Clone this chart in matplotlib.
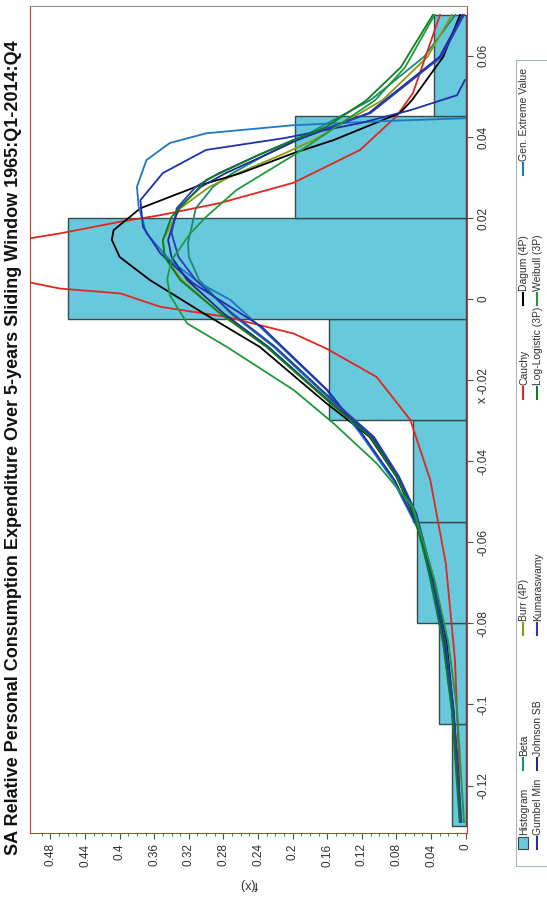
import numpy as np
import matplotlib
matplotlib.use('Agg')
import matplotlib.pyplot as plt
from matplotlib.lines import Line2D
from matplotlib.patches import Rectangle

plt.rcParams['font.family'] = ['Liberation Sans Narrow', 'Liberation Sans', 'DejaVu Sans']

TITLE = 'SA Relative Personal Consumption Expenditure Over 5-years Sliding Window 1965:Q1-2014:Q4'

# histogram of relative frequencies
bin_lefts = [-0.1299, -0.1049, -0.0799, -0.0549, -0.0299, -0.0049, 0.0201, 0.0451]
bin_width = 0.025
bin_probs = [0.0162, 0.0309, 0.0560, 0.0606, 0.1577, 0.4594, 0.1970, 0.0363]

# fitted densities (x, f(x))
dagum_x = [-0.129, -0.1178, -0.1014, -0.0849, -0.0725, -0.0636, -0.0529, -0.0438, -0.034, -0.0257,
           -0.0118, -0.0035, 0.0047, 0.0104, 0.0146, 0.017, 0.0224, 0.0281, 0.031, 0.036, 0.0392,
           0.0459, 0.0491, 0.0598, 0.0701]
dagum_f = [0.0066, 0.0086, 0.0143, 0.022, 0.0335, 0.045, 0.061, 0.080, 0.111, 0.161,
           0.238, 0.303, 0.365, 0.400, 0.409, 0.407, 0.376, 0.307, 0.261, 0.199, 0.153,
           0.076, 0.062, 0.0259, 0.0066]

cauchy_x = [-0.129, -0.1095, -0.089, -0.0652, -0.0446, -0.0298, -0.0192, -0.0122, -0.0085, -0.0044,
            -0.0019, 0.0014, 0.0026, 0.0041, 0.0098, 0.015, 0.0162, 0.0191, 0.0207, 0.0237, 0.0287,
            0.0368, 0.0451, 0.0508, 0.0701]
cauchy_f = [0.0066, 0.0086, 0.0124, 0.023, 0.041, 0.064, 0.103, 0.161, 0.199, 0.276,
            0.353, 0.399, 0.469, 0.5036, 0.645, 0.5036, 0.469, 0.399, 0.353, 0.284, 0.199,
            0.122, 0.080, 0.061, 0.0297]

gev_x = [-0.129, -0.1219, -0.1014, -0.0849, -0.0693, -0.0577, -0.0447, -0.0331, -0.0224, -0.0068,
         -0.0002, 0.0039, 0.0096, 0.0162, 0.0228, 0.0277, 0.0343, 0.0385, 0.0409, 0.0429, 0.044,
         0.0446]
gev_f = [0.0066, 0.0086, 0.016, 0.026, 0.041, 0.053, 0.084, 0.122, 0.161, 0.238,
         0.272, 0.307, 0.342, 0.369, 0.378, 0.380, 0.369, 0.342, 0.300, 0.199, 0.084,
         0.001]

gumbel_x = [-0.129, -0.1219, -0.1014, -0.0849, -0.0693, -0.0577, -0.0447, -0.0331, -0.0224, -0.0068,
            0.0039, 0.0113, 0.0178, 0.0244, 0.0311, 0.0368, 0.0397, 0.0434, 0.0466, 0.0503, 0.054]
gumbel_f = [0.0062, 0.0082, 0.015, 0.025, 0.040, 0.052, 0.082, 0.120, 0.160, 0.236,
            0.315, 0.353, 0.373, 0.376, 0.350, 0.300, 0.210, 0.122, 0.064, 0.010, 0.001]

johnson_x = [-0.129, -0.1014, -0.0849, -0.0693, -0.0529, -0.0438, -0.034, -0.0257, -0.0118, -0.0035,
             0.0047, 0.0104, 0.0146, 0.0224, 0.0277, 0.031, 0.0355, 0.0392, 0.0459, 0.0598, 0.0701]
johnson_f = [0.006, 0.015, 0.024, 0.038, 0.058, 0.078, 0.108, 0.155, 0.228, 0.280,
             0.322, 0.340, 0.344, 0.332, 0.306, 0.278, 0.232, 0.195, 0.112, 0.030, 0.004]

kumar_x = [-0.129, -0.1014, -0.0849, -0.0693, -0.0529, -0.0438, -0.034, -0.0257, -0.0118, -0.0035,
           0.0047, 0.0104, 0.0163, 0.0224, 0.0277, 0.031, 0.0355, 0.0392, 0.0459, 0.0598, 0.0701]
kumar_f = [0.005, 0.014, 0.023, 0.037, 0.057, 0.077, 0.106, 0.150, 0.220, 0.270,
           0.312, 0.332, 0.340, 0.334, 0.312, 0.286, 0.240, 0.200, 0.110, 0.028, 0.002]

beta_x = [-0.129, -0.1014, -0.0849, -0.0693, -0.0529, -0.0438, -0.034, -0.0257, -0.0118, -0.0035,
          0.0047, 0.0104, 0.0138, 0.0224, 0.0277, 0.031, 0.0355, 0.0392, 0.0491, 0.0598, 0.0701]
beta_f = [0.005, 0.014, 0.024, 0.038, 0.058, 0.079, 0.108, 0.152, 0.222, 0.272,
          0.308, 0.320, 0.321, 0.312, 0.292, 0.270, 0.232, 0.196, 0.110, 0.048, 0.012]

burr_x = [-0.129, -0.1014, -0.0849, -0.0693, -0.0529, -0.0438, -0.034, -0.0257, -0.0118, -0.0035,
          0.0047, 0.0104, 0.0146, 0.0224, 0.0277, 0.031, 0.0355, 0.0392, 0.0491, 0.0598, 0.0701]
burr_f = [0.006, 0.015, 0.025, 0.039, 0.059, 0.080, 0.110, 0.156, 0.230, 0.284,
          0.328, 0.348, 0.350, 0.330, 0.296, 0.264, 0.214, 0.176, 0.096, 0.044, 0.016]

loglog_x = [-0.129, -0.1014, -0.0849, -0.0693, -0.0529, -0.0438, -0.034, -0.0257, -0.0118, -0.0035,
            0.0047, 0.0104, 0.0146, 0.0203, 0.0294, 0.0355, 0.0392, 0.0425, 0.049, 0.0572, 0.0701]
loglog_f = [0.007, 0.016, 0.026, 0.040, 0.060, 0.080, 0.110, 0.156, 0.230, 0.284,
            0.330, 0.348, 0.350, 0.340, 0.300, 0.240, 0.199, 0.161, 0.115, 0.075, 0.038]

weibull_x = [-0.129, -0.1014, -0.0849, -0.0693, -0.0513, -0.0405, -0.0306, -0.0224, -0.0118, -0.006,
             0.001, 0.005, 0.0096, 0.0163, 0.0203, 0.0269, 0.036, 0.0425, 0.049, 0.0572, 0.0701]
weibull_f = [0.002, 0.010, 0.020, 0.036, 0.061, 0.103, 0.153, 0.199, 0.276, 0.322,
             0.342, 0.345, 0.340, 0.318, 0.300, 0.265, 0.195, 0.150, 0.105, 0.070, 0.036]

curves = [
    ('Beta', beta_x, beta_f, '#1a8a7a'),
    ('Burr (4P)', burr_x, burr_f, '#8a9a10'),
    ('Cauchy', cauchy_x, cauchy_f, '#e0281e'),
    ('Dagum (4P)', dagum_x, dagum_f, '#000000'),
    ('Gen. Extreme Value', gev_x, gev_f, '#1c78c0'),
    ('Gumbel Min', gumbel_x, gumbel_f, '#2030a8'),
    ('Johnson SB', johnson_x, johnson_f, '#1c2c90'),
    ('Kumaraswamy', kumar_x, kumar_f, '#2c3cb8'),
    ('Log-Logistic (3P)', loglog_x, loglog_f, '#0e7e1e'),
    ('Weibull (3P)', weibull_x, weibull_f, '#1e9a3a'),
]

f_ticks = [0, 0.04, 0.08, 0.12, 0.16, 0.2, 0.24, 0.28, 0.32, 0.36, 0.4, 0.44, 0.48]
f_labels = ['0', '0.04', '0.08', '0.12', '0.16', '0.2', '0.24', '0.28', '0.32', '0.36', '0.4', '0.44', '0.48']
x_ticks = [-0.12, -0.1, -0.08, -0.06, -0.04, -0.02, 0, 0.02, 0.04, 0.06]
x_labels = ['-0.12', '-0.1', '-0.08', '-0.06', '-0.04', '-0.02', '0', '0.02', '0.04', '0.06']

W, H = 547, 898
fig = plt.figure(figsize=(W / 100, H / 100), dpi=100)


def fx(px):
    return px / W


def fy(py):
    return 1 - py / H


# chart is laid on its side: density runs right-to-left, x runs upward
ax = fig.add_axes([fx(30), fy(833), fx(467) - fx(30), fy(6) - fy(833)])
ax.set_xlim(0.5036, -0.0015)
ax.set_ylim(-0.1317, 0.0723)

ax.barh(bin_lefts, bin_probs, height=bin_width, align='edge', color='#68c8dc',
        edgecolor='#3a4a4a', linewidth=1.0, zorder=1)

for name, xs, fs, col in curves:
    ax.plot(fs, xs, color=col, linewidth=1.3, zorder=3, solid_joinstyle='round')

for side in ['left', 'bottom', 'right']:
    ax.spines[side].set_color('#c83c2c')
ax.spines['top'].set_color('#909090')

ax.set_xticks(f_ticks)
ax.set_xticklabels(f_labels, rotation=90, fontsize=8.5, color='#303030')
ax.set_xticks(np.arange(0, 0.5, 0.01), minor=True)
ax.yaxis.tick_right()
ax.set_yticks(x_ticks)
ax.set_yticklabels(x_labels, rotation=90, va='center', fontsize=8.5, color='#303030')
ax.tick_params(axis='both', which='major', length=4, color='#505050')
ax.tick_params(axis='x', which='minor', length=2, color='#505050')

fig.text(fx(249), fy(884), 'f(x)', rotation=180, ha='center', va='center', fontsize=9, color='#303030')
fig.text(fx(483), fy(400), 'x', rotation=90, ha='center', va='center', fontsize=9, color='#303030')
fig.text(fx(14), fy(448), TITLE, rotation=90, ha='center', va='center', fontsize=13,
         fontweight='bold', color='#111111')

# legend drawn sideways beside the plot
fig.add_artist(Rectangle((fx(516), fy(866)), fx(560) - fx(516), fy(60) - fy(866),
                         transform=fig.transFigure, facecolor='white', edgecolor='#a8b8b8', linewidth=0.8))
legend_rows = [
    (523, [('Histogram', 843), ('Beta', 764), ('Burr (4P)', 629), ('Cauchy', 393),
           ('Dagum (4P)', 299), ('Gen. Extreme Value', 169)]),
    (537, [('Gumbel Min', 843), ('Johnson SB', 764), ('Kumaraswamy', 629), ('Log-Logistic (3P)', 393),
           ('Weibull (3P)', 299)]),
]
colors = {name: col for name, xs, fs, col in curves}
for px, entries in legend_rows:
    for name, py in entries:
        if name == 'Histogram':
            fig.add_artist(Rectangle((fx(px - 5), fy(py + 6)), fx(10), 12 / H, transform=fig.transFigure,
                                     facecolor='#68c8dc', edgecolor='#3a4a4a', linewidth=0.8))
        else:
            fig.add_artist(Line2D([fx(px), fx(px)], [fy(py + 6), fy(py - 6)], transform=fig.transFigure,
                                  color=colors[name], linewidth=1.5))
        fig.text(fx(px + 1), fy(py - 8), name, rotation=90, ha='center', va='bottom', fontsize=7.5,
                 color='#303030')

fig.savefig('out.png', dpi=100)
